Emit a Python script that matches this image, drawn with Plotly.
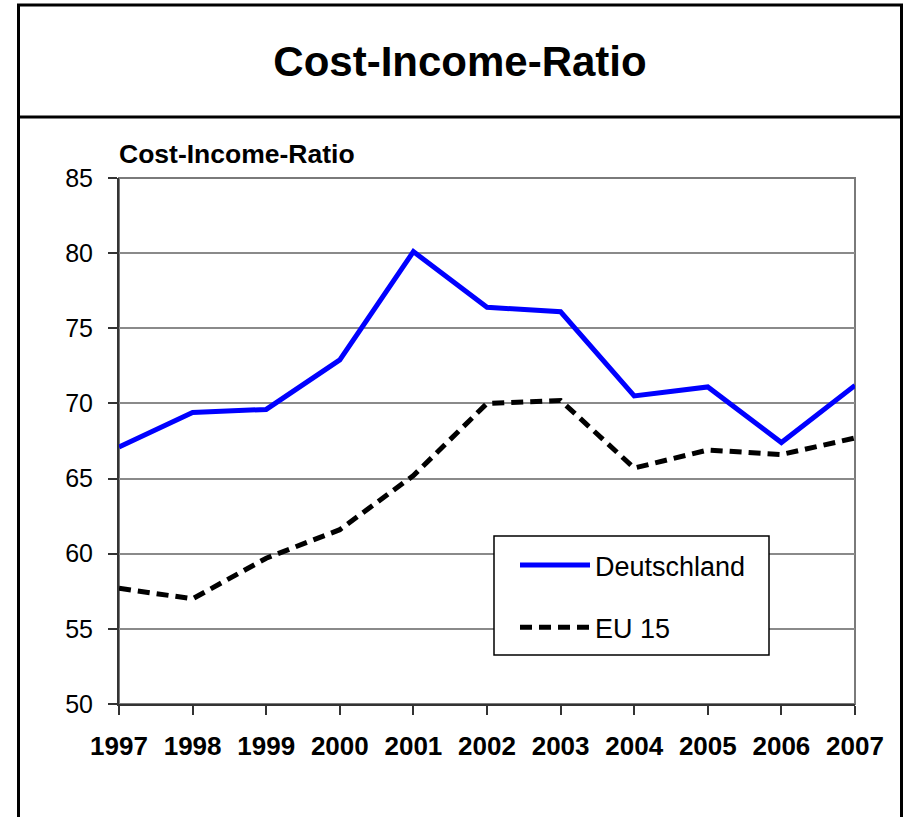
import plotly.graph_objects as go

# ---- data ----
years = [1997, 1998, 1999, 2000, 2001, 2002, 2003, 2004, 2005, 2006, 2007]
deutschland = [67.1, 69.4, 69.6, 72.9, 80.1, 76.4, 76.1, 70.5, 71.1, 67.4, 71.2]
eu15 = [57.7, 57.0, 59.7, 61.6, 65.2, 70.0, 70.2, 65.7, 66.9, 66.6, 67.7]
y_ticks = [50, 55, 60, 65, 70, 75, 80, 85]
series_names = ["Deutschland", "EU 15"]
title_text = "Cost-Income-Ratio"
axis_title_text = "Cost-Income-Ratio"

# ---- layout geometry (pixels) ----
W, H = 907, 817
L, R, T, B = 119, 855, 178, 704
FONT = "Liberation Sans, Arial, sans-serif"


def px_x(px):
    return (px - L) / (R - L)


def px_y(py):
    return (B - py) / (B - T)


fig = go.Figure()
fig.add_trace(go.Scatter(
    x=years, y=deutschland, name=series_names[0], mode="lines",
    line=dict(color="#0000FF", width=5), legendgroup="a",
))
fig.add_trace(go.Scatter(
    x=years, y=eu15, name=series_names[1], mode="lines",
    line=dict(color="#000000", width=5, dash="12px,7px"), legendgroup="b",
))

shapes = [
    # outer frame
    dict(type="rect", xref="paper", yref="paper",
         x0=px_x(18.5), x1=px_x(901.5), y0=px_y(840), y1=px_y(5),
         line=dict(color="#000000", width=3), layer="below"),
    # title separator
    dict(type="line", xref="paper", yref="paper",
         x0=px_x(18.5), x1=px_x(901.5), y0=px_y(117), y1=px_y(117),
         line=dict(color="#000000", width=3)),
    # plot area frame (top/right gray)
    dict(type="rect", xref="x domain", yref="y domain",
         x0=0, x1=1, y0=0, y1=1,
         line=dict(color="#7a7a7a", width=2), layer="below"),
    # legend frame
    dict(type="rect", xref="paper", yref="paper",
         x0=px_x(494), x1=px_x(769), y0=px_y(655), y1=px_y(536),
         line=dict(color="#000000", width=1.5), fillcolor="white",
         layer="above"),
]

fig.update_layout(
    width=W, height=H,
    margin=dict(l=L, r=W - R, t=T, b=H - B, pad=0),
    paper_bgcolor="white", plot_bgcolor="white",
    font=dict(family=FONT, color="#000000"),
    title=dict(text=title_text, x=460 / W, xanchor="center", xref="container",
               y=1 - 61 / H, yanchor="middle", yref="container",
               font=dict(size=42, weight="bold", family=FONT)),
    showlegend=True,
    legend=dict(x=px_x(515), y=px_y(541), xanchor="left", yanchor="top",
                bgcolor="rgba(0,0,0,0)", borderwidth=0,
                font=dict(size=27, family=FONT), tracegroupgap=24,
                itemwidth=70),
    shapes=shapes,
    annotations=[dict(text="<b>" + axis_title_text + "</b>", xref="paper", yref="paper",
                      x=px_x(117), y=px_y(154), xanchor="left", yanchor="middle",
                      showarrow=False, font=dict(size=26.5, family=FONT))],
)

fig.update_xaxes(
    range=[years[0], years[-1]], tickmode="array", tickvals=years,
    ticktext=[str(y) for y in years],
    showgrid=False, zeroline=False,
    showline=True, linecolor="#333333", linewidth=2,
    ticks="outside", ticklen=9, tickwidth=1.5, tickcolor="#333333",
    tickfont=dict(size=26, weight="bold", family=FONT),
    ticklabelstandoff=9,
)
fig.update_yaxes(
    range=[y_ticks[0], y_ticks[-1]], tickmode="array", tickvals=y_ticks,
    showgrid=True, gridcolor="#8a8a8a", gridwidth=2, zeroline=False,
    showline=True, linecolor="#333333", linewidth=2,
    ticks="outside", ticklen=9, tickwidth=1.5, tickcolor="#333333",
    tickfont=dict(size=25, family=FONT),
    ticklabelstandoff=10,
)

fig.write_html("out.html", config={"displayModeBar": False})
